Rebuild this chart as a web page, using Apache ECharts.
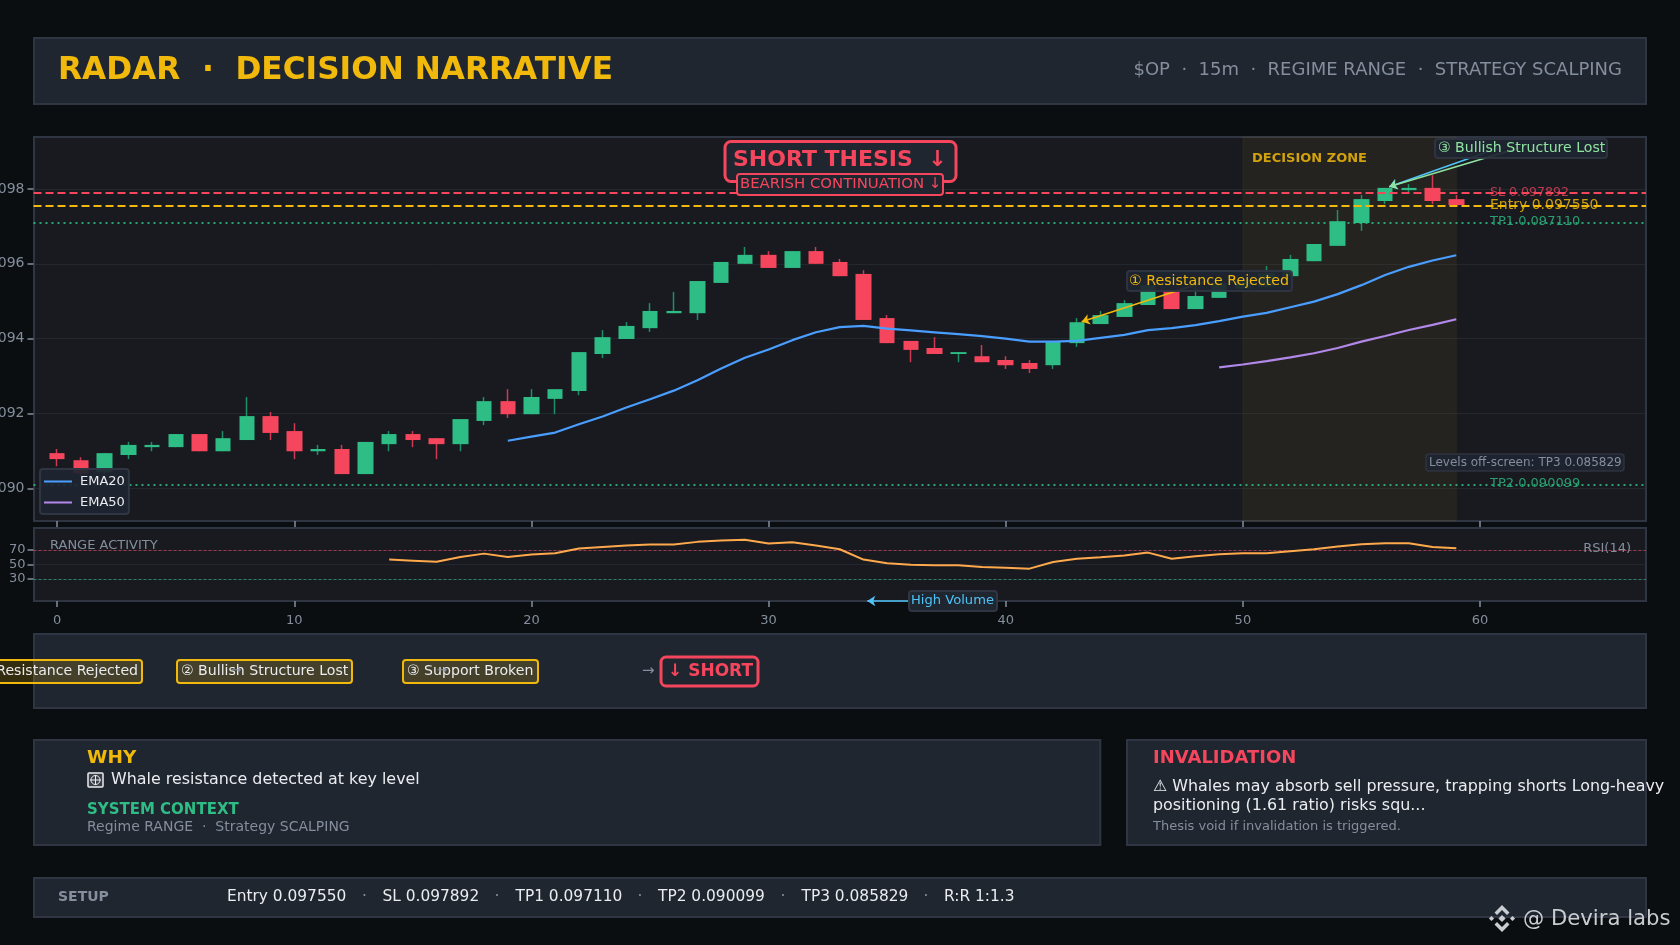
<!DOCTYPE html>
<html><head><meta charset="utf-8">
<style>html,body{margin:0;padding:0;background:#0b0e11}#c{width:1680px;height:945px}</style>
<script src="https://cdn.jsdelivr.net/npm/echarts@6/dist/echarts.min.js"></script>
</head><body><div id="c"></div>
<script>
const opens=[0.09094,0.09075,0.09043,0.09089,0.0911,0.0911,0.09145,0.09099,0.09129,0.09193,0.09153,0.09099,0.09105,0.09038,0.09118,0.09145,0.09134,0.09118,0.0918,0.09233,0.09198,0.09239,0.0926,0.09359,0.09399,0.09428,0.09468,0.09468,0.09549,0.096,0.09624,0.09589,0.09634,0.09605,0.09573,0.09455,0.09394,0.09375,0.09359,0.09353,0.09343,0.09335,0.09329,0.09388,0.09439,0.09458,0.0949,0.0953,0.09479,0.09509,0.09534,0.09539,0.09567,0.09607,0.09648,0.09709,0.09768,0.09797,0.09803,0.09773];
const closes=[0.09078,0.0904,0.09094,0.09116,0.09116,0.09145,0.09099,0.09134,0.09193,0.09148,0.09099,0.09105,0.09038,0.09124,0.09145,0.09129,0.09118,0.09185,0.09233,0.09198,0.09244,0.09265,0.09364,0.09404,0.09434,0.09474,0.09474,0.09554,0.09605,0.09624,0.09589,0.09634,0.096,0.09567,0.0945,0.09388,0.0937,0.09359,0.09364,0.09337,0.09329,0.09319,0.09391,0.09444,0.09463,0.09495,0.09543,0.09479,0.09514,0.09548,0.09557,0.09575,0.09613,0.09653,0.09714,0.09773,0.09803,0.09803,0.09768,0.09757];
const lows=[0.09059,0.09033,0.09038,0.09078,0.09099,0.0911,0.09099,0.09099,0.09129,0.09129,0.09078,0.09089,0.09038,0.09038,0.09099,0.0911,0.09078,0.09099,0.09169,0.09188,0.09198,0.09198,0.09249,0.09348,0.09399,0.09418,0.09468,0.0945,0.09549,0.096,0.09589,0.09589,0.096,0.09567,0.0945,0.09388,0.09337,0.09359,0.09337,0.09337,0.09319,0.09308,0.09319,0.09378,0.09439,0.09458,0.0949,0.09479,0.09479,0.09509,0.09534,0.09539,0.09567,0.09607,0.09648,0.09688,0.0976,0.09792,0.0976,0.09757];
const highs=[0.09105,0.09083,0.09094,0.09124,0.09124,0.09145,0.09145,0.09153,0.09244,0.09204,0.09174,0.09116,0.09116,0.09124,0.09153,0.09153,0.09134,0.09185,0.09244,0.09265,0.09265,0.09265,0.09364,0.09423,0.09444,0.09495,0.09525,0.09554,0.09605,0.09645,0.09634,0.09634,0.09645,0.09613,0.09583,0.09463,0.09394,0.09404,0.09364,0.09383,0.09353,0.09343,0.09391,0.09455,0.09474,0.09503,0.09543,0.0953,0.0954,0.09548,0.09557,0.09594,0.09624,0.09653,0.09744,0.09784,0.09803,0.09813,0.09837,0.09784];
const ema20Start=19;
const ema20=[0.09127,0.09138,0.09149,0.09171,0.09192,0.09216,0.09238,0.09261,0.09289,0.0932,0.09349,0.09371,0.09396,0.09417,0.09431,0.09434,0.09427,0.09422,0.09417,0.09412,0.09407,0.094,0.09392,0.09392,0.09394,0.09402,0.0941,0.09423,0.09428,0.09436,0.09447,0.09459,0.09469,0.09484,0.09499,0.09519,0.09543,0.0957,0.09592,0.09609,0.09623];
const ema50Start=49;
const ema50=[0.09323,0.09331,0.0934,0.0935,0.09361,0.09375,0.09392,0.09407,0.09423,0.09437,0.09452];
const rsiStart=14;
const rsi=[56.7,55.3,53.9,60.3,64.9,60.3,63.6,65.4,71.8,74.1,76,77.4,77.4,81,82.9,83.8,78.7,80.6,76,70.9,56.7,51.6,49.8,48.9,48.9,46.6,45.6,44.3,53.4,58,59.9,62.2,66.3,58,61.3,64,65.4,65.4,68.2,70.9,74.6,77.8,79.2,79.2,74.1,72.3];
const slLevel=0.097892, entryLevel=0.09755, tp1Level=0.09711, tp2Level=0.090099;
const xTickValues=[0,10,20,30,40,50,60];
const yTickValues=[0.09,0.092,0.094,0.096,0.098];
const rsiTickValues=[30,50,70];

const GREEN='#2ebd85',RED='#f6465d',GOLD='#f0b90b',GREY='#848e9c',WHITE='#eaecef',BORDER='#2f3542',PANEL='#1f2630',CHART='#181a20',BLUE='#4fc3f7',MINT='#8fe3a0';
const FONT='"DejaVu Sans"';
const pair=(arr,start)=>arr.map((v,i)=>[start+i,v]);
const xMin=-1,xMax=67;
const candleCats=[];for(let k=xMin;k<=xMax;k++)candleCats.push(String(k));
const wickData=opens.map((o,i)=>[String(i),o,closes[i],lows[i],highs[i]]);
const bodyData=opens.map((o,i)=>[String(i),o,closes[i],Math.min(o,closes[i]),Math.max(o,closes[i])]);

function R(x,y,w,h,fill,stroke,lw,r,z,op){return {type:'rect',silent:true,z:z,shape:{x:x,y:y,width:w,height:h,r:r||0},style:{fill:fill,stroke:stroke||null,lineWidth:lw||0,opacity:op==null?1:op}};}
function T(x,y,text,fill,font,z,align,op){return {type:'text',silent:true,z:z,style:{x:x,y:y+1,text:text,fill:fill,font:font+' '+FONT,textAlign:align||'left',textVerticalAlign:'middle',opacity:op==null?1:op}};}
function D(cx,cy,s,fill,z){return {type:'polygon',silent:true,z:z,shape:{points:[[cx,cy-s],[cx+s,cy],[cx,cy+s],[cx-s,cy]]},style:{fill:fill}};}
function P(points,fill,z){return {type:'polygon',silent:true,z:z,shape:{points:points},style:{fill:fill}};}

const g=[];
// panels
g.push(R(34,38,1612,66,PANEL,BORDER,2,0,-5));
g.push(R(34,137,1612,384,CHART,BORDER,2,0,-5));
g.push(R(34,528,1612,73,CHART,BORDER,2,0,-5));
g.push(R(34,634,1612,74,PANEL,BORDER,2,0,-5));
g.push(R(34,740,1066.3,105,PANEL,BORDER,2,0,-5));
g.push(R(1127,740,519,105,PANEL,BORDER,2,0,-5));
g.push(R(34,878,1612,39,PANEL,BORDER,2,0,-5));
// header
g.push(T(58,69.5,'RADAR  ·  DECISION NARRATIVE',GOLD,'bold 31.2px',5));
g.push(T(1622,69.5,'$OP  ·  15m  ·  REGIME RANGE  ·  STRATEGY SCALPING',GREY,'18px',5,'right'));
// level labels below lines
g.push(T(1490,192,'SL 0.097892',RED,'12.6px',1,'left',0.75));
g.push(T(1490,204,'Entry 0.097550',GOLD,'14px',1,'left',0.85));
g.push(T(1490,221,'TP1 0.097110',GREEN,'13px',1,'left',0.8));
g.push(T(1490,482.5,'TP2 0.090099',GREEN,'13px',1,'left',0.8));
g.push(T(1252,158,'DECISION ZONE',GOLD,'bold 13px',3,'left',0.85));
// thesis
g.push(R(725,141.5,231,40,PANEL,RED,3,6,20));
g.push(T(733,159.5,'SHORT THESIS  ↓',RED,'bold 22px',21));
g.push(R(737,174,206,21,PANEL,RED,2,3,22));
g.push(T(740,183,'BEARISH CONTINUATION ↓',RED,'14.9px',23));
// annotation labels
g.push(R(1127,271,165,20,PANEL,BORDER,2,3,20,0.93));
g.push(T(1129,280,'① Resistance Rejected',GOLD,'14.2px',21));
g.push(R(1435,139,172,19,PANEL,BORDER,2,3,20,0.93));
g.push(T(1438,147.5,'③ Bullish Structure Lost',MINT,'14.1px',21));
g.push(R(1426,454,198,17,PANEL,BORDER,1.5,3,20,0.93));
g.push(T(1429,461.5,'Levels off-screen: TP3 0.085829',GREY,'12px',21));
// rsi labels
g.push(T(50,545,'RANGE ACTIVITY',GREY,'13px',6));
g.push(T(1631,547.5,'RSI(14)',GREY,'13px',6,'right'));
g.push(R(909,591,88,20,PANEL,BORDER,2,3,20));
g.push(T(911,600,'High Volume',BLUE,'13.1px',21));
// chips
const CHIP='rgba(240,185,11,0.18)';
g.push(R(-80,660,222,23,CHIP,GOLD,2,3,5));
g.push(T(138,670,'① Resistance Rejected',WHITE,'14.1px',6,'right'));
g.push(R(177,660,175,23,CHIP,GOLD,2,3,5));
g.push(T(181,670,'② Bullish Structure Lost',WHITE,'14.1px',6));
g.push(T(236,670,'→',GREY,'13px',7,'center'));
g.push(R(403,660,135,23,CHIP,GOLD,2,3,5));
g.push(T(407,670,'③ Support Broken',WHITE,'14.1px',6));
g.push(T(442,670,'→',GREY,'13px',7,'center'));
g.push(T(642,670,'→',GREY,'15px',6));
g.push(R(661,657,97,29,PANEL,RED,3,5,5));
g.push(T(668,670.5,'↓ SHORT',RED,'bold 17px',6));
// why
g.push(T(87,757,'WHY',GOLD,'bold 18.5px',6));
g.push(R(88,773,15,14,'#3a3f47',WHITE,1.5,1,6));
g.push({type:'circle',silent:true,z:7,shape:{cx:95.5,cy:780,r:4.5},style:{fill:'none',stroke:WHITE,lineWidth:1}});
g.push({type:'line',silent:true,z:7,shape:{x1:90,y1:780,x2:101,y2:780},style:{stroke:WHITE,lineWidth:1}});
g.push({type:'line',silent:true,z:7,shape:{x1:95.5,y1:775,x2:95.5,y2:785},style:{stroke:WHITE,lineWidth:1}});
g.push(T(111,779,'Whale resistance detected at key level',WHITE,'15.9px',6));
g.push(T(87,809,'SYSTEM CONTEXT',GREEN,'bold 15px',6));
g.push(T(87,826,'Regime RANGE  ·  Strategy SCALPING',GREY,'14px',6));
// invalidation
g.push(T(1153,757,'INVALIDATION',RED,'bold 18px',6));
g.push(T(1153,785.5,'⚠ Whales may absorb sell pressure, trapping shorts Long-heavy',WHITE,'15.9px',6));
g.push(T(1153,804.5,'positioning (1.61 ratio) risks squ...',WHITE,'15.9px',6));
g.push(T(1153,826,'Thesis void if invalidation is triggered.',GREY,'13px',6));
// setup
g.push(T(58,896,'SETUP',GREY,'bold 14px',6));
const setupParts=['Entry 0.097550','SL 0.097892','TP1 0.097110','TP2 0.090099','TP3 0.085829','R:R 1:1.3'];
const setupX=[227,382.5,515.5,658,801.5,944];
const setupDotX=[364.5,497,640,783,926];
setupParts.forEach((s,i)=>g.push(T(setupX[i],896,s,WHITE,'15.4px',6)));
setupDotX.forEach(x=>g.push(T(x,896,'·',GREY,'15.4px',6,'center')));
// watermark
const WM='#c9cdd2',cx=1502,cy=918.5;
g.push(D(cx,cy,3.6,WM,30),D(cx-10.5,cy,2.6,WM,30),D(cx+10.5,cy,2.6,WM,30));
g.push(P([[cx,cy-13.5],[cx+7.5,cy-6],[cx+5,cy-3.5],[cx,cy-8.5],[cx-5,cy-3.5],[cx-7.5,cy-6]],WM,30));
g.push(P([[cx,cy+13.5],[cx+7.5,cy+6],[cx+5,cy+3.5],[cx,cy+8.5],[cx-5,cy+3.5],[cx-7.5,cy+6]],WM,30));
g.push(T(1523,918.5,'@ Devira labs',WM,'21.2px',30));

const tickStyle={show:true,length:6,lineStyle:{color:GREY,width:1.5}};
const noZero={show:false,onZero:false};

const option={
 backgroundColor:'#0b0e11',
 animation:false,
 textStyle:{fontFamily:FONT},
 graphic:{elements:g},
 legend:{data:['EMA20','EMA50'],orient:'vertical',left:40,top:469,padding:[6,4,5,4],itemGap:8,itemWidth:28,itemHeight:2,icon:'rect',
  backgroundColor:'rgba(31,38,48,0.93)',borderColor:BORDER,borderWidth:2,borderRadius:3,
  textStyle:{color:WHITE,fontSize:13,fontFamily:FONT,padding:[2,0,2,3]},z:10},
 grid:[
  {left:33.5,right:34,top:137,height:384,outerBoundsMode:'none'},
  {left:33.5,right:34,top:528,height:73,outerBoundsMode:'none'}
 ],
 xAxis:[
  {type:'value',gridIndex:0,min:xMin,max:xMax,axisLine:noZero,axisTick:Object.assign({customValues:xTickValues},tickStyle),axisLabel:{show:false},splitLine:{show:false}},
  {type:'value',gridIndex:1,min:xMin,max:xMax,axisLine:noZero,axisTick:Object.assign({customValues:xTickValues},tickStyle),
   axisLabel:{customValues:xTickValues,color:GREY,fontSize:13,margin:13,fontFamily:FONT},splitLine:{show:false}},
  {type:'category',gridIndex:0,data:candleCats,boundaryGap:false,show:false,axisLine:noZero}
 ],
 yAxis:[
  {type:'value',gridIndex:0,min:0.089126,max:0.09939,position:'left',axisLine:noZero,axisTick:Object.assign({customValues:yTickValues},tickStyle),
   axisLabel:{customValues:yTickValues,color:GREY,fontSize:14,margin:9,fontFamily:FONT,formatter:v=>v.toFixed(3)},
   splitLine:{show:true,lineStyle:{color:'#2b3139',width:1,opacity:0.6}}},
  {type:'value',gridIndex:1,min:0,max:100,position:'left',axisLine:noZero,axisTick:Object.assign({customValues:rsiTickValues},tickStyle),
   axisLabel:{customValues:rsiTickValues,color:GREY,fontSize:13,margin:8,padding:[4,0,0,0],fontFamily:FONT},
   splitLine:{show:true,lineStyle:{color:'#2b3139',width:1,opacity:0.5}}}
 ],
 series:[
  {name:'zone',type:'line',xAxisIndex:0,yAxisIndex:0,data:[[50,0.09]],symbol:'none',z:1,silent:true,
   markArea:{silent:true,itemStyle:{color:'rgba(240,185,11,0.06)',borderColor:'rgba(240,185,11,0.06)',borderWidth:1},data:[[{xAxis:50},{xAxis:59}]]}},
  {name:'wicks',type:'candlestick',xAxisIndex:2,yAxisIndex:0,barWidth:1,z:3,silent:true,
   encode:{x:0,y:[1,2,3,4]},data:wickData,
   itemStyle:{color:'#1e9068',color0:'#cf3a52',borderColor:'#1e9068',borderColor0:'#cf3a52',borderWidth:1.5}},
  {name:'bodies',type:'candlestick',xAxisIndex:2,yAxisIndex:0,barWidth:16,z:4,silent:true,
   encode:{x:0,y:[1,2,3,4]},data:bodyData,
   itemStyle:{color:GREEN,color0:RED,borderColor:GREEN,borderColor0:RED,borderWidth:0}},
  {name:'EMA20',type:'line',xAxisIndex:0,yAxisIndex:0,data:pair(ema20,ema20Start),showSymbol:false,symbol:'none',lineStyle:{color:'#4a9eff',width:2.2},itemStyle:{color:'#4a9eff'},z:5,
   markLine:{silent:true,precision:6,symbol:'none',label:{show:false},data:[
    {yAxis:slLevel,lineStyle:{color:RED,type:[8,4],width:2}},
    {yAxis:entryLevel,lineStyle:{color:GOLD,type:[8,4],width:2}},
    {yAxis:tp1Level,lineStyle:{color:GREEN,type:[2,4],width:2,opacity:0.85}},
    {yAxis:tp2Level,lineStyle:{color:GREEN,type:[2,4],width:2,opacity:0.85}}
   ]}},
  {name:'EMA50',type:'line',xAxisIndex:0,yAxisIndex:0,data:pair(ema50,ema50Start),showSymbol:false,symbol:'none',lineStyle:{color:'#b388eb',width:2.2},itemStyle:{color:'#b388eb'},z:5,
   markLine:{silent:true,symbol:['none','arrow'],symbolSize:8,label:{show:false},data:[
    [{coord:[48.5,0.09554],lineStyle:{color:GOLD,width:1.6,type:'solid'}},{coord:[43.2,0.09445]}],
    [{coord:[60.8,0.0991],lineStyle:{color:BLUE,width:1.6,type:'solid'}},{coord:[56.17,0.09806]}],
    [{coord:[61.67,0.0991],lineStyle:{color:MINT,width:1.6,type:'solid'}},{coord:[56.17,0.09806]}]
   ]}},
  {name:'RSI',type:'line',xAxisIndex:1,yAxisIndex:1,data:pair(rsi,rsiStart),showSymbol:false,symbol:'none',lineStyle:{color:'#ffa94d',width:2},z:5,
   markLine:{silent:true,symbol:['none','none'],label:{show:false},data:[
    {yAxis:70,lineStyle:{color:RED,type:[3,2],width:1,opacity:0.6}},
    {yAxis:30,lineStyle:{color:GREEN,type:[3,2],width:1,opacity:0.6}},
    [{coord:[37.74,0],symbol:'none',lineStyle:{color:BLUE,width:1.6,type:'solid'}},{coord:[34.16,0],symbol:'arrow',symbolSize:8}]
   ]}}
 ]
};
const chart=echarts.init(document.getElementById('c'),null,{renderer:'canvas',width:1680,height:945});
chart.setOption(option);
</script></body></html>
